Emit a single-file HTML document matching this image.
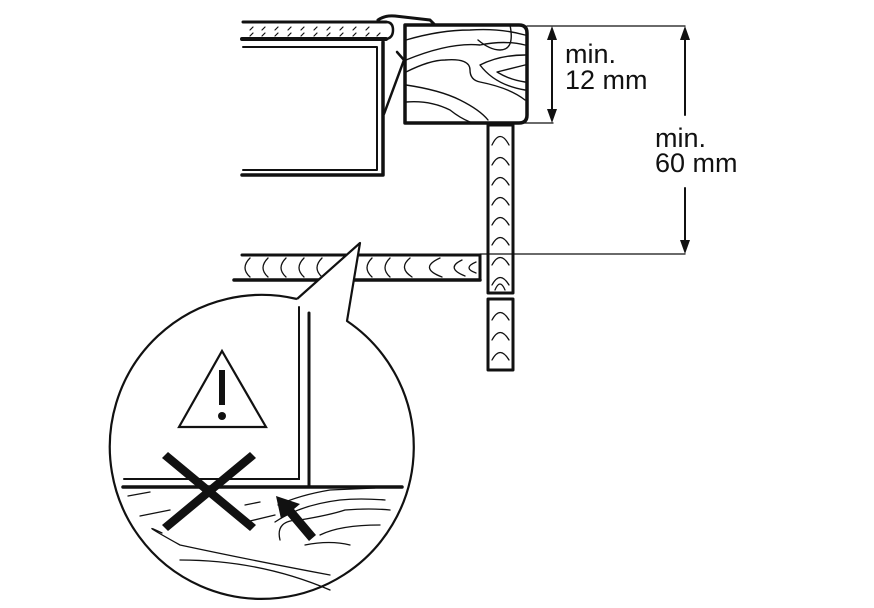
<!DOCTYPE html>
<html><head><style>
html,body{margin:0;padding:0;background:#fff;}
svg{display:block;}
text{font-family:"Liberation Sans",Arial,sans-serif;font-size:27px;fill:#111;}
</style></head><body>
<svg width="874" height="608" viewBox="0 0 874 608" xmlns="http://www.w3.org/2000/svg">
<g fill="none" stroke="#111" stroke-linecap="round" stroke-linejoin="round">
<line x1="243" y1="22" x2="386" y2="22" stroke-width="3"/>
<line x1="242" y1="39" x2="386" y2="39" stroke-width="4"/>
<path d="M386 22 Q393 22 393 30 Q393 38 386 39" stroke-width="2.5"/>
<g stroke-width="1.2">
<path d="M250 30l3-3M262 30l3-3M275 30l3-3M288 30l3-3M301 30l3-3M314 30l3-3M327 30l3-3M340 30l3-3M353 30l3-3M366 30l3-3"/>
<path d="M250 36l3-3M262 36l3-3M275 36l3-3M288 36l3-3M301 36l3-3M314 36l3-3M327 36l3-3M340 36l3-3M353 36l3-3M366 36l3-3M377 36l3-3"/>
</g>
<path d="M243 47 H377 V170 H243" stroke-width="2"/>
<path d="M383 42 V175 H242" stroke-width="3.5"/>
<path d="M378 20 Q385 15 395 16 L430 20 L434 24" stroke-width="3"/>
<path d="M384 114 L404 60 L397 52" stroke-width="2.5"/>
<path d="M405 25 H519 Q527 25 527 33 V115 Q527 123 519 123 H405 Z" stroke-width="3.5"/>
<g stroke-width="1.4">
<path d="M406 40 Q440 30 470 30 Q500 28 525 35"/>
<path d="M406 60 Q450 42 480 45 Q505 40 525 45"/>
<path d="M406 72 Q430 60 445 60 Q470 58 470 70 Q470 80 480 82 Q510 88 525 100"/>
<path d="M406 85 Q440 90 460 100 Q480 110 488 120"/>
<path d="M406 102 Q430 100 450 110 Q460 118 470 122"/>
<path d="M525 55 Q500 55 480 65 Q495 85 525 90"/>
<path d="M525 65 Q505 70 497 72 Q510 80 525 82"/>
<path d="M510 25 Q515 50 500 50 Q490 50 478 40"/>
</g>
<rect x="488" y="125" width="25" height="168" stroke-width="3"/>
<rect x="488" y="299" width="25" height="71" stroke-width="3"/>
<g stroke-width="1.3">
<path d="M492 145 Q500 128 509 145M492 165 Q500 150 509 165M492 185 Q500 170 509 185M492 205 Q500 190 509 205M492 225 Q500 210 509 225M492 245 Q500 230 509 245M492 265 Q500 250 509 265M492 285 Q500 270 509 285M495 290 Q500 278 505 290"/>
<path d="M492 320 Q500 305 509 320M492 340 Q500 325 509 340M492 360 Q500 345 509 360"/>
</g>
<line x1="242" y1="255" x2="480" y2="255" stroke-width="3"/>
<line x1="234" y1="280" x2="480" y2="280" stroke-width="3.5"/>
<line x1="480" y1="255" x2="480" y2="280" stroke-width="3"/>
<g stroke-width="1.3">
<path d="M250 258 Q240 268 250 277M268 258 Q258 268 268 277M286 258 Q276 268 286 277M304 258 Q294 268 304 277M322 258 Q312 268 322 277M372 258 Q362 268 372 277M390 258 Q380 268 390 277M410 258 Q398 268 412 277M440 258 Q418 268 442 277M462 260 Q445 268 465 276M476 262 Q462 268 476 273"/>
</g>
<g stroke-width="1.3">
<line x1="527" y1="26" x2="685" y2="26"/>
<line x1="513" y1="123" x2="553" y2="123"/>
<line x1="480" y1="254" x2="685" y2="254"/>
<line x1="552" y1="35" x2="552" y2="114" stroke-width="2"/>
<line x1="685" y1="35" x2="685" y2="115" stroke-width="2"/>
<line x1="685" y1="188" x2="685" y2="245" stroke-width="2"/>
</g>
</g>
<g fill="#111">
<path d="M552 26 L547 40 L557 40Z"/>
<path d="M552 123 L547 109 L557 109Z"/>
<path d="M685 26 L680 40 L690 40Z"/>
<path d="M685 254 L680 240 L690 240Z"/>
</g>
<text x="565" y="63">min.</text>
<text x="565" y="89">12 mm</text>
<text x="655" y="147">min.</text>
<text x="655" y="172">60 mm</text>
<path d="M297 299 L360 243 L347 321 A152 152 0 1 1 297 299" fill="#fff" stroke="#111" stroke-width="2.2" stroke-linejoin="round"/>
<g fill="none" stroke="#111" stroke-linecap="round">
<path d="M299 307 V479 H124" stroke-width="2"/>
<path d="M309 313 V487" stroke-width="3"/>
<line x1="123" y1="487" x2="402" y2="487" stroke-width="3.5"/>
<path d="M179 427 L222 351 L266 427 Z" stroke-width="2.2"/>
<g stroke-width="1.3">
<path d="M128 496 L150 492M140 516 L170 510M245 505 L260 502M250 521 L275 515M162 533 Q135 520 180 545 Q250 560 330 575"/>
<path d="M180 560 Q260 560 330 590"/>
<path d="M278 505 Q300 495 330 490 L375 488"/>
<path d="M275 522 Q300 505 340 500 Q360 498 385 500"/>
<path d="M280 540 Q275 520 300 520 Q330 515 345 510 Q370 508 390 510"/>
<path d="M320 535 Q340 525 380 525"/>
<path d="M305 545 Q330 540 350 545"/>
</g>
</g>
<g fill="#111">
<rect x="219" y="370" width="6" height="35"/>
<circle cx="222" cy="416" r="4"/>
<path d="M162 458 L168 452 L256 525 L250 531Z"/>
<path d="M250 452 L256 458 L168 531 L162 525Z"/>
<path d="M276 496 L300 504 L294 509 L316 535 L309 541 L287 515 L281 519Z"/>
</g>
</svg>
</body></html>
